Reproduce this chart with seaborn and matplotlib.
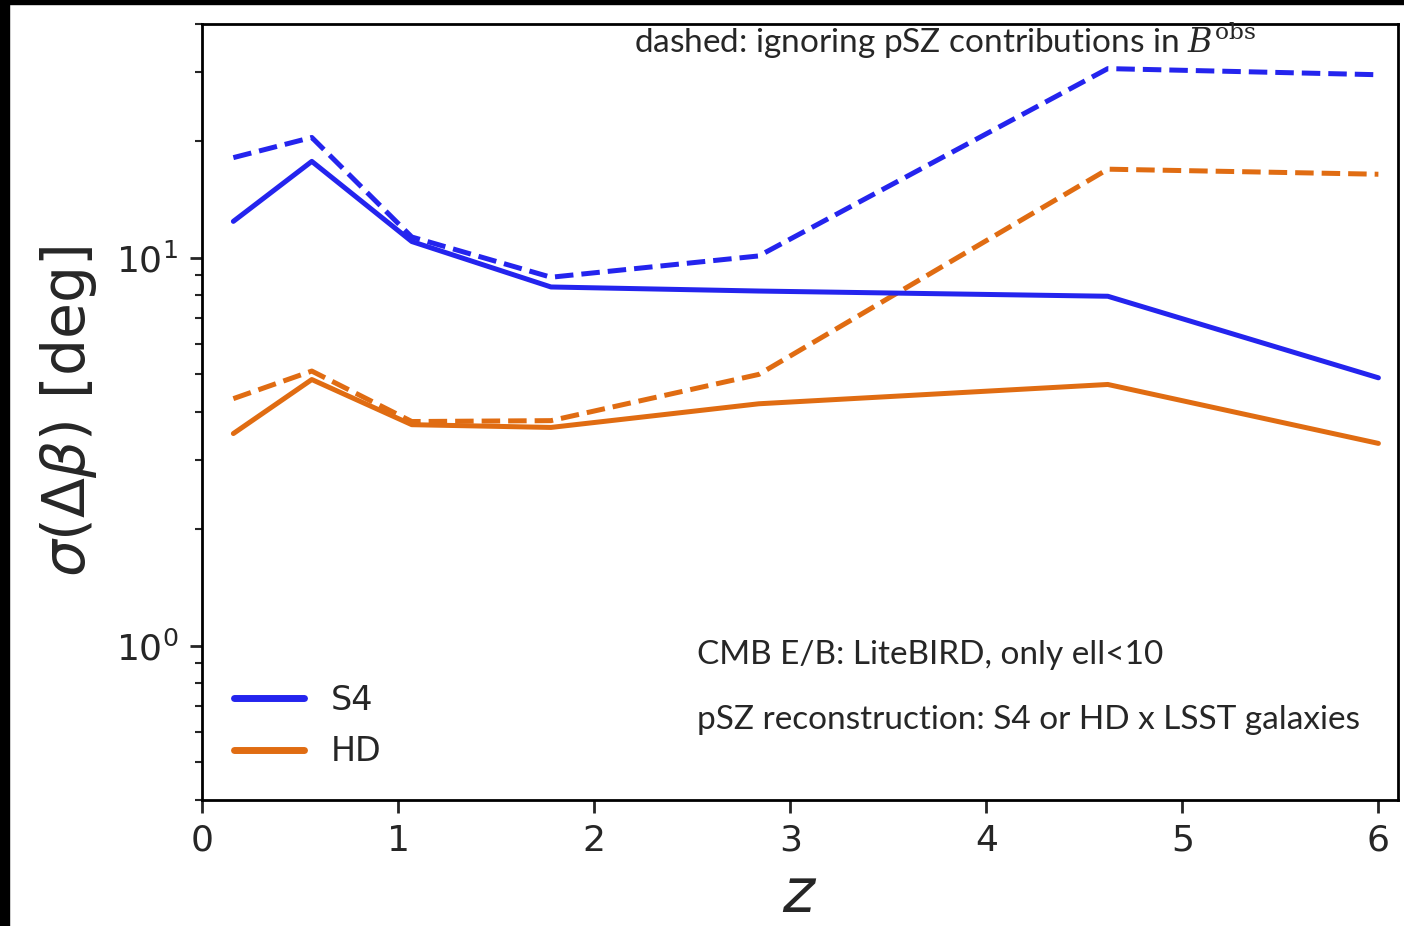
import matplotlib
matplotlib.use("Agg")
import matplotlib.pyplot as plt
import seaborn as sns
import pandas as pd
from matplotlib.lines import Line2D
from matplotlib.patches import Rectangle

z = [0.16, 0.56, 1.07, 1.78, 2.84, 4.62, 6.0]
s4_full = [12.4, 17.7, 11.0, 8.4, 8.2, 7.95, 4.9]
s4_nopsz = [18.1, 20.4, 11.3, 8.9, 10.1, 30.7, 29.6]
hd_full = [3.52, 4.85, 3.71, 3.65, 4.2, 4.71, 3.32]
hd_nopsz = [4.33, 5.1, 3.78, 3.8, 5.0, 16.9, 16.4]

blue = "#2424ee"
orange = "#e06c12"

rows = []
for name, vals, exp in [("S4", s4_full, "full"), ("S4", s4_nopsz, "nopsz"),
                        ("HD", hd_full, "full"), ("HD", hd_nopsz, "nopsz")]:
    for zi, v in zip(z, vals):
        rows.append({"z": zi, "sigma": v, "exp": name, "case": exp})
df = pd.DataFrame(rows)

sns.set_style("ticks")
plt.rcParams['font.family'] = ['DejaVu Sans']
plt.rcParams['mathtext.fontset'] = 'dejavusans'

fig = plt.figure(figsize=(14.04, 9.26), dpi=100)
ax = fig.add_axes([202/1404, 1-800/926, (1398-202)/1404, (800-24)/926])

for (name, case), sub in df.groupby(["exp", "case"]):
    sns.lineplot(data=sub, x="z", y="sigma", ax=ax,
                 color=blue if name == "S4" else orange,
                 linestyle="-" if case == "full" else "--",
                 linewidth=3.6, legend=False, errorbar=None)

ax.set_yscale("log")
ax.set_xlim(0, 6.1)
ax.set_ylim(0.4, 40)
ax.set_xticks([0, 1, 2, 3, 4, 5, 6])
ax.tick_params(axis="both", which="major", labelsize=26, length=9, width=2,
               direction="out", pad=8)
ax.tick_params(axis="y", which="minor", length=5, width=1.5)
for sp in ax.spines.values():
    sp.set_linewidth(2)
    sp.set_color("black")
ax.set_xlabel("$z$", fontsize=44, labelpad=6)
ax.set_ylabel(r"$\sigma(\Delta\beta)$ [deg]", fontsize=42, labelpad=12)

handles = [Line2D([0], [0], color=blue, lw=5), Line2D([0], [0], color=orange, lw=5)]
ax.legend(handles, ["S4", "HD"], loc="lower left", frameon=False, fontsize=24,
          handlelength=2.1, handletextpad=0.8, labelspacing=0.55,
          bbox_to_anchor=(0.0, 0.0), borderaxespad=0.55)

ann_font = ["Lato", "DejaVu Sans"]
ax.text(0.361, 0.962, r"dashed: ignoring pSZ contributions in $\mathit{B}^{\mathrm{obs}}$",
        transform=ax.transAxes, fontsize=24, family=ann_font, va="baseline",
        clip_on=False, math_fontfamily="dejavuserif")
ax.text(0.414, 0.175, "CMB E/B: LiteBIRD, only ell<10",
        transform=ax.transAxes, fontsize=24, family=ann_font)
ax.text(0.414, 0.092, "pSZ reconstruction: S4 or HD x LSST galaxies",
        transform=ax.transAxes, fontsize=24, family=ann_font)

# black borders present in the reference image
fig.patches.append(Rectangle((0, 1-4/926), 1, 4/926, transform=fig.transFigure,
                             color="black", zorder=10))
fig.patches.append(Rectangle((0, 0), 9/1404, 1, transform=fig.transFigure,
                             color="black", zorder=10))

fig.savefig("out.png", dpi=100)
